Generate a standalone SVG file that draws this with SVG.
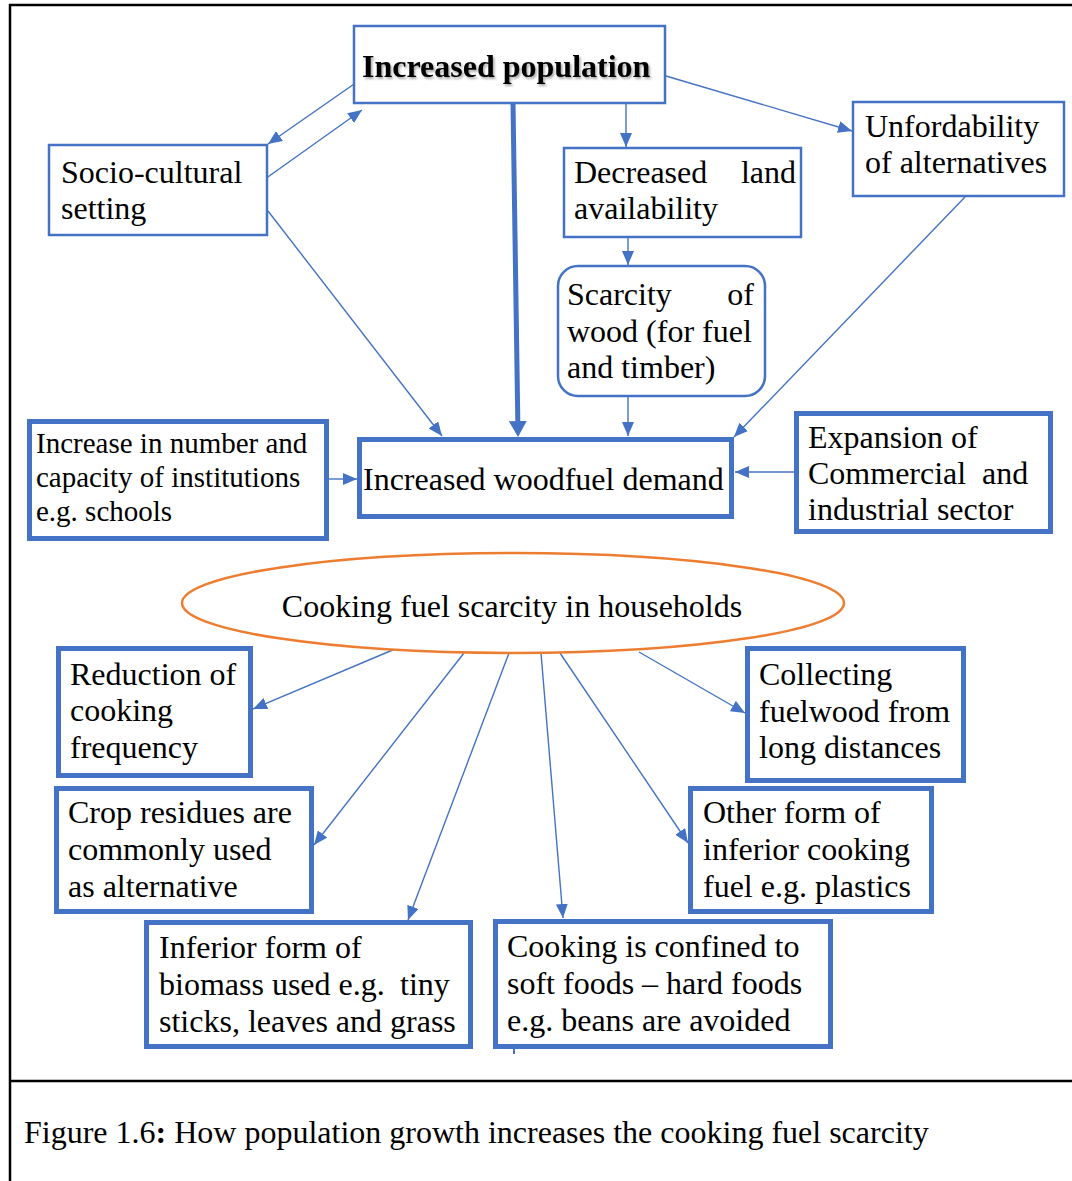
<svg xmlns="http://www.w3.org/2000/svg" width="1072" height="1181" viewBox="0 0 1072 1181">
<style>
text{font-family:"Liberation Serif","Times New Roman",serif;font-size:32px;fill:#000}
text.s29{font-size:29px}
.thin{fill:#fff;stroke:#4472C4;stroke-width:2.5}
.thick{fill:#fff;stroke:#4472C4;stroke-width:5}
.c{fill:none;stroke:#4472C4;stroke-width:1.4;marker-end:url(#ah)}
.frame{stroke:#000;stroke-width:2.5;fill:none}
</style>
<defs>
<marker id="ah" markerUnits="userSpaceOnUse" markerWidth="14" markerHeight="12" refX="14" refY="6" orient="auto"><path d="M0,0 L14,6 L0,12 z" fill="#4472C4"/></marker>
<marker id="ahb" markerUnits="userSpaceOnUse" markerWidth="16" markerHeight="18" refX="0" refY="9" orient="auto"><path d="M0,0 L16,9 L0,18 z" fill="#4472C4"/></marker>
<filter id="sh" x="-5%" y="-20%" width="110%" height="150%"><feDropShadow dx="1.5" dy="2" stdDeviation="1.2" flood-color="#000" flood-opacity="0.35"/></filter>
</defs>
<g id="frame">
<line class="frame" x1="9" y1="5" x2="1072" y2="5"/>
<line class="frame" x1="10" y1="4" x2="10" y2="1181"/>
<line class="frame" x1="10" y1="1081" x2="1072" y2="1081"/>
</g>
<g id="connectors">
<line class="c" x1="357" y1="82" x2="268" y2="144"/>
<line class="c" x1="265" y1="179" x2="362" y2="110"/>
<line class="c" x1="268" y1="211" x2="442" y2="436"/>
<line x1="513" y1="103" x2="517.8" y2="421" stroke="#4472C4" stroke-width="5" marker-end="url(#ahb)"/>
<line class="c" x1="626" y1="103" x2="626" y2="147"/>
<line class="c" x1="666" y1="76" x2="852" y2="131"/>
<line class="c" x1="628" y1="238" x2="628" y2="265"/>
<line class="c" x1="628" y1="397" x2="628" y2="436"/>
<line class="c" x1="965" y1="197" x2="734" y2="437"/>
<line class="c" x1="329" y1="479" x2="357" y2="479"/>
<line class="c" x1="794" y1="472" x2="735" y2="472"/>
<line class="c" x1="395" y1="649" x2="253" y2="709"/>
<line class="c" x1="464" y1="653" x2="314" y2="845"/>
<line class="c" x1="509" y1="653" x2="408" y2="920"/>
<line class="c" x1="541" y1="653" x2="563" y2="918"/>
<line class="c" x1="560" y1="653" x2="688" y2="843"/>
<line class="c" x1="639" y1="652" x2="745" y2="713"/>
<line x1="514" y1="1048" x2="514" y2="1054" stroke="#4472C4" stroke-width="2"/>
</g>
<g id="increased-population">
<rect class="thin" x="354" y="26" width="311" height="77"/>
<text x="362" y="77" font-weight="bold" filter="url(#sh)">Increased population</text>
</g>
<g id="socio-cultural">
<rect class="thin" x="49" y="145" width="218" height="90"/>
<text x="61" y="183">Socio-cultural</text>
<text x="61" y="219">setting</text>
</g>
<g id="decreased-land">
<rect class="thin" x="564" y="148" width="237" height="89"/>
<text x="574" y="183">Decreased</text>
<text x="796" y="183" text-anchor="end">land</text>
<text x="574" y="219">availability</text>
</g>
<g id="unfordability">
<rect class="thin" x="853" y="102" width="211" height="94"/>
<text x="865" y="137">Unfordability</text>
<text x="865" y="173">of alternatives</text>
</g>
<g id="scarcity-wood">
<rect class="thin" x="558" y="266" width="207" height="130" rx="20" ry="20"/>
<text x="567" y="305">Scarcity</text>
<text x="754" y="305" text-anchor="end">of</text>
<text x="567" y="342">wood (for fuel</text>
<text x="567" y="378">and timber)</text>
</g>
<g id="institutions">
<rect class="thick" x="29.5" y="421.5" width="297" height="117"/>
<text class="s29" x="36" y="453">Increase in number and</text>
<text class="s29" x="36" y="487">capacity of institutions</text>
<text class="s29" x="36" y="521">e.g. schools</text>
</g>
<g id="woodfuel-demand">
<rect class="thick" x="359.5" y="439.5" width="372" height="77"/>
<text x="363" y="490">Increased woodfuel demand</text>
</g>
<g id="expansion">
<rect class="thick" x="796.5" y="413.5" width="254" height="118"/>
<text x="808" y="448">Expansion of</text>
<text x="808" y="484">Commercial<tspan x="982">and</tspan></text>
<text x="808" y="520">industrial sector</text>
</g>
<g id="cooking-fuel-scarcity">
<ellipse cx="513" cy="603" rx="331" ry="50" fill="#fff" stroke="#ED7D31" stroke-width="2.5"/>
<text x="512" y="617" text-anchor="middle">Cooking fuel scarcity in households</text>
</g>
<g id="reduction">
<rect class="thick" x="58.5" y="648.5" width="192" height="127"/>
<text x="70" y="685">Reduction of</text>
<text x="70" y="721">cooking</text>
<text x="70" y="758">frequency</text>
</g>
<g id="collecting">
<rect class="thick" x="747.5" y="648.5" width="216" height="132"/>
<text x="759" y="685">Collecting</text>
<text x="759" y="722">fuelwood from</text>
<text x="759" y="758">long distances</text>
</g>
<g id="crop-residues">
<rect class="thick" x="56.5" y="788.5" width="255" height="123"/>
<text x="68" y="823">Crop residues are</text>
<text x="68" y="860">commonly used</text>
<text x="68" y="897">as alternative</text>
</g>
<g id="other-form">
<rect class="thick" x="690.5" y="788.5" width="241" height="123"/>
<text x="703" y="823">Other form of</text>
<text x="703" y="860">inferior cooking</text>
<text x="703" y="897">fuel e.g. plastics</text>
</g>
<g id="inferior-biomass">
<rect class="thick" x="146.5" y="922.5" width="324" height="124"/>
<text x="159" y="958">Inferior form of</text>
<text x="159" y="995">biomass used e.g.<tspan x="400">tiny</tspan></text>
<text x="159" y="1032">sticks, leaves and grass</text>
</g>
<g id="soft-foods">
<rect class="thick" x="495.5" y="921.5" width="335" height="125"/>
<text x="507" y="957">Cooking is confined to</text>
<text x="507" y="994">soft foods – hard foods</text>
<text x="507" y="1031">e.g. beans are avoided</text>
</g>
<g id="caption">
<text x="24" y="1143">Figure 1.6<tspan font-weight="bold">:</tspan> How population growth increases the cooking fuel scarcity</text>
</g>
</svg>
